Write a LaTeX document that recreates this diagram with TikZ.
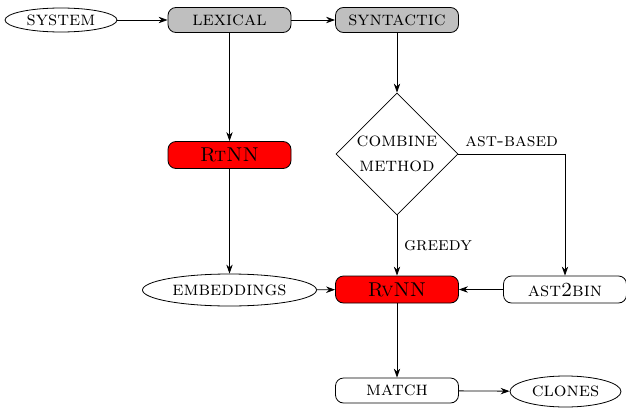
\documentclass[tikz,border=0pt]{standalone}
\usetikzlibrary{shapes.geometric,arrows.meta}
\begin{document}
\begin{tikzpicture}[x=0.5pt,y=-0.5pt,
  every node/.style={font=\fontsize{10}{12.5}\selectfont},
  proc/.style={draw,rounded corners=4pt,minimum width=61.5pt,minimum height=12.5pt,inner sep=0pt},
  grayproc/.style={proc,fill=black!25},
  redproc/.style={proc,fill=red,minimum height=13.5pt},
  term/.style={draw,ellipse,inner sep=0pt},
  decide/.style={draw,diamond,minimum width=61pt,minimum height=61pt,inner sep=0pt,align=center},
  conn/.style={-{Stealth[length=4.5pt,width=3.2pt]}},
  lbl/.style={inner sep=3.3pt,font=\fontsize{9.5}{11}\selectfont}]
\useasboundingbox (0,0) rectangle (626,412);
\node[term,minimum width=56pt,minimum height=12pt] (sys) at (61,20) {\textsc{system}};
\node[grayproc] (lex) at (229.5,20) {\textsc{lexical}};
\node[grayproc] (syn) at (397,20) {\textsc{syntactic}};
\node[redproc] (rt) at (229.5,155) {\textsc{RtNN}};
\node[decide] (cm) at (397,154) {\textsc{combine}\\\textsc{method}};
\node[term,minimum width=87pt,minimum height=16pt] (emb) at (229.5,290) {\textsc{embeddings}};
\node[redproc] (rv) at (397,289.5) {\textsc{RvNN}};
\node[proc,minimum height=13.5pt] (a2b) at (565,289.5) {\textsc{ast2bin}};
\node[proc] (mat) at (397,390.5) {\textsc{match}};
\node[term,minimum width=55.5pt,minimum height=15.5pt] (cl) at (565.5,391.5) {\textsc{clones}};
\draw[conn] (sys) -- (lex);
\draw[conn] (lex) -- (syn);
\draw[conn] (lex) -- (rt);
\draw[conn] (syn) -- (cm);
\draw[conn] (rt) -- (emb);
\draw[conn] (cm) -- node[lbl,right] {\textsc{greedy}} (rv);
\draw[conn] (cm.east) -| node[lbl,pos=0.25,above] {\textsc{ast-based}} (a2b);
\draw[conn] (emb) -- (rv);
\draw[conn] (a2b) -- (rv);
\draw[conn] (rv) -- (mat);
\draw[conn] (mat) -- (cl);
\end{tikzpicture}
\end{document}
